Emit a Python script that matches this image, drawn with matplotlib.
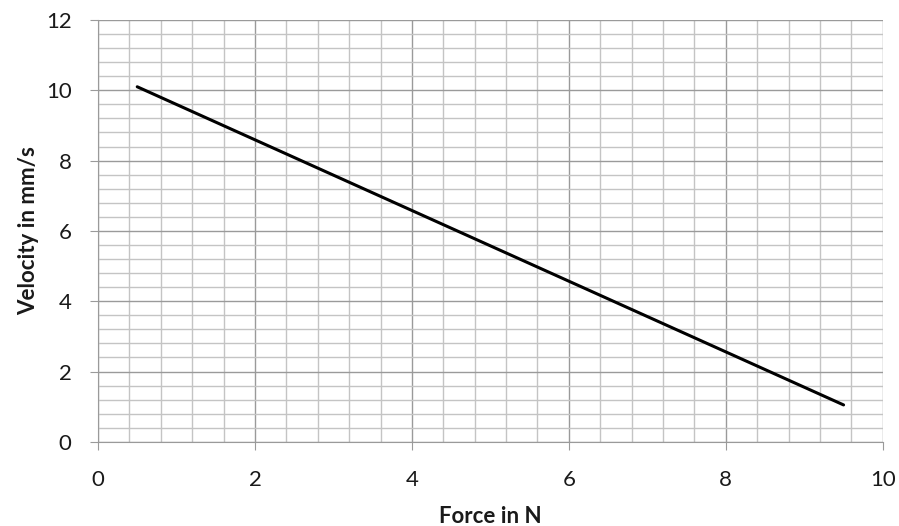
import numpy as np
import matplotlib.pyplot as plt
from matplotlib.ticker import MultipleLocator

# data
force = [0.5, 9.5]
velocity = [10.1, 1.05]

x_ticks = [0, 2, 4, 6, 8, 10]
y_ticks = [0, 2, 4, 6, 8, 10, 12]

plt.rcParams['font.family'] = ['Lato', 'DejaVu Sans']

fig = plt.figure(figsize=(8.99, 5.26), dpi=100)
ax = fig.add_axes([0.109, 0.160, 0.873, 0.802])

ax.plot(force, velocity, color='black', linewidth=2.2, solid_capstyle='round')

ax.set_xlim(0, 10)
ax.set_ylim(0, 12)
ax.set_xticks(x_ticks)
ax.set_yticks(y_ticks)
ax.xaxis.set_minor_locator(MultipleLocator(0.4))
ax.yaxis.set_minor_locator(MultipleLocator(0.4))

ax.grid(which='major', color='#9a9a9a', linewidth=1.0)
ax.grid(which='minor', color='#c4c4c4', linewidth=1.0)
ax.set_axisbelow(True)

for side in ['top', 'right']:
    ax.spines[side].set_visible(False)
for side in ['left', 'bottom']:
    ax.spines[side].set_color('#9a9a9a')

ax.tick_params(which='major', length=6, color='#9a9a9a', labelsize=16, labelcolor='#1a1a1a')
ax.tick_params(axis='x', which='major', pad=14)
ax.tick_params(axis='y', which='major', pad=13)
ax.tick_params(which='minor', length=0)

ax.set_xlabel("Force in N", fontsize=16, fontweight='bold', labelpad=12, color='#1a1a1a')
ax.set_ylabel("Velocity in mm/s", fontsize=16, fontweight='bold', labelpad=5, color='#1a1a1a')

fig.savefig("out.png", dpi=100)
